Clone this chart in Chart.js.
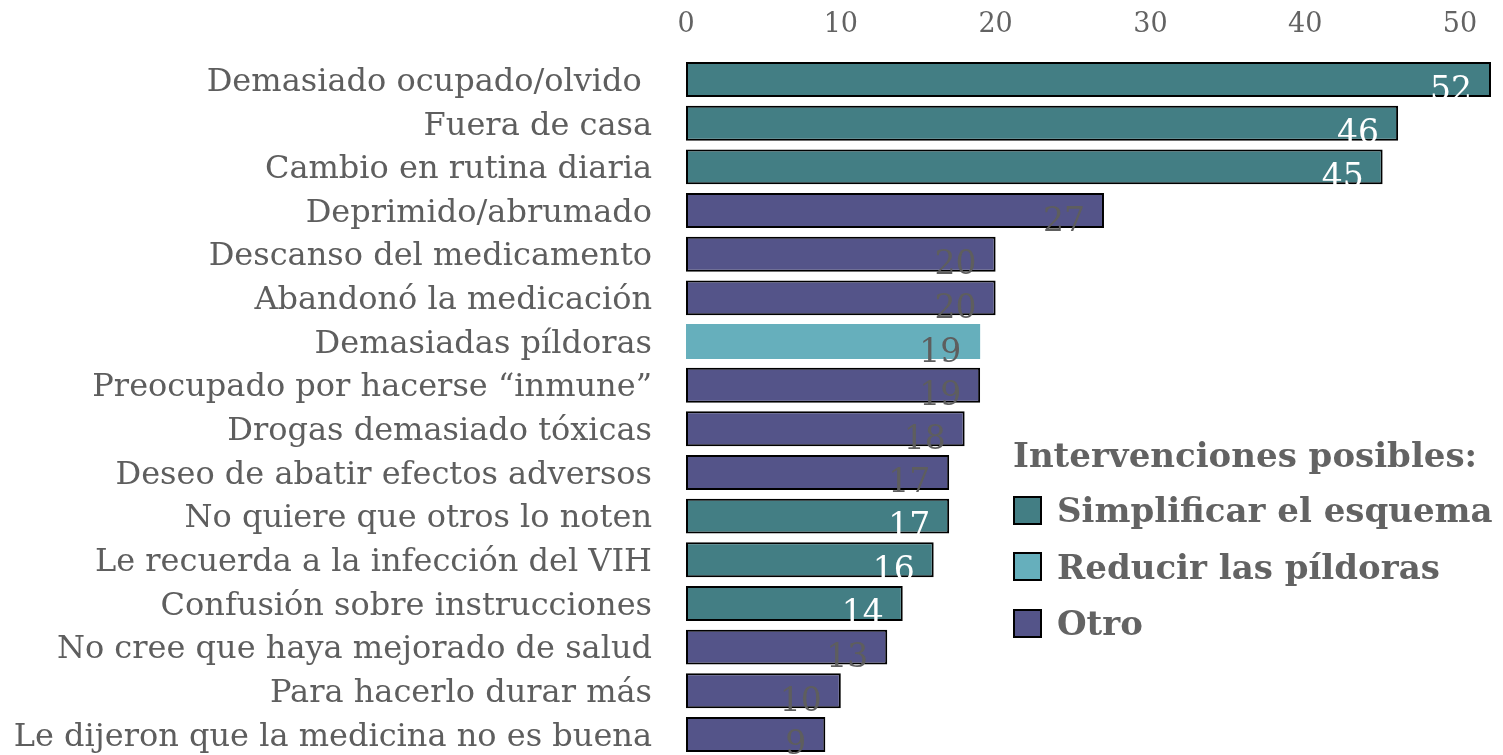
<!DOCTYPE html>
<html>
<head>
<meta charset="utf-8">
<script src="https://cdn.jsdelivr.net/npm/chart.js@4.4.0/dist/chart.umd.min.js"></script>
<style>
  html, body { margin: 0; padding: 0; background: #ffffff; overflow: hidden; }
  #wrap { position: relative; width: 1503px; height: 755px; overflow: hidden; }
  #box { position: absolute; left: 0; top: 0; width: 1503px; height: 760px; }
  #legend { position: absolute; left: 1013px; top: 428px; font-family: "DejaVu Serif", serif; font-weight: bold; color: #636363; }
  #legend .title { font-size: 34px; line-height: 54px; white-space: nowrap; }
  #legend .item { font-size: 34px; line-height: 56.5px; height: 56.5px; white-space: nowrap; display: flex; align-items: center; }
  #legend .box { width: 25px; height: 25px; border: 2px solid #000; margin-right: 15px; box-sizing: content-box; flex: none; }
</style>
</head>
<body>
<div id="wrap">
  <div id="box"><canvas id="chart"></canvas></div>
  <div id="legend"></div>
</div>
<script>
// Reasons for missing doses, with the intervention group each one belongs to
const categories = [
  "Demasiado ocupado/olvido ",
  "Fuera de casa",
  "Cambio en rutina diaria",
  "Deprimido/abrumado",
  "Descanso del medicamento",
  "Abandonó la medicación",
  "Demasiadas píldoras",
  "Preocupado por hacerse “inmune”",
  "Drogas demasiado tóxicas",
  "Deseo de abatir efectos adversos",
  "No quiere que otros lo noten",
  "Le recuerda a la infección del VIH",
  "Confusión sobre instrucciones",
  "No cree que haya mejorado de salud",
  "Para hacerlo durar más",
  "Le dijeron que la medicina no es buena"
];
const values = [52, 46, 45, 27, 20, 20, 19, 19, 18, 17, 17, 16, 14, 13, 10, 9];
// 0 = Simplificar el esquema, 1 = Reducir las píldoras, 2 = Otro
const groupOf = [0, 0, 0, 2, 2, 2, 1, 2, 2, 2, 0, 0, 0, 2, 2, 2];
const groupNames = ["Simplificar el esquema", "Reducir las píldoras", "Otro"];
const groupColors = ["#437e84", "#66afbc", "#545489"];
const groupBorders = [2, 0, 2];
const groupLabelColors = ["#ffffff", "#5e5e5e", "#5e5e5e"];
const xTicks = [0, 10, 20, 30, 40, 50];
const legendTitle = "Intervenciones posibles:";

const datasets = groupNames.map((name, g) => ({
  label: name,
  data: values.map((v, i) => (groupOf[i] === g ? v : null)),
  backgroundColor: groupColors[g],
  borderColor: "#000000",
  borderWidth: groupBorders[g],
  borderSkipped: false,
  barPercentage: 0.8,
  categoryPercentage: 1.0,
  labelColor: groupLabelColors[g]
}));

// Value labels tucked inside the end of each bar
const valueLabels = {
  id: "valueLabels",
  afterDatasetsDraw(chart) {
    const ctx = chart.ctx;
    ctx.save();
    ctx.font = "33px 'DejaVu Serif', serif";
    ctx.textAlign = "right";
    ctx.textBaseline = "alphabetic";
    chart.data.datasets.forEach((ds, di) => {
      const meta = chart.getDatasetMeta(di);
      meta.data.forEach((el, i) => {
        const v = ds.data[i];
        if (v === null || v === undefined) return;
        ctx.fillStyle = ds.labelColor;
        ctx.fillText(String(v), el.x - 19, el.y + 20);
      });
    });
    ctx.restore();
  }
};

new Chart(document.getElementById("chart"), {
  type: "bar",
  data: { labels: categories, datasets },
  plugins: [valueLabels],
  options: {
    indexAxis: "y",
    responsive: true,
    maintainAspectRatio: false,
    animation: false,
    layout: { padding: { left: 0, right: 12, top: 0, bottom: 3.7 } },
    plugins: { legend: { display: false }, tooltip: { enabled: false } },
    scales: {
      x: {
        position: "top",
        stacked: true,
        min: 0,
        max: 52,
        afterBuildTicks(scale) { scale.ticks = xTicks.map(v => ({ value: v })); },
        afterFit(scale) { scale.height = 57.7; },
        grid: { display: false, drawTicks: false },
        border: { display: false },
        ticks: {
          color: "#636363",
          padding: 17,
          font: { family: "'DejaVu Serif', serif", size: 27 }
        }
      },
      y: {
        stacked: true,
        afterFit(scale) {
          scale.width = 686;
          scale.paddingTop = 0;
          scale.paddingBottom = 0;
        },
        grid: { display: false, drawTicks: false },
        border: { display: false },
        ticks: {
          color: "#5e5e5e",
          padding: 34,
          labelOffset: 3,
          autoSkip: false,
          font: { family: "'DejaVu Serif', serif", size: 32 }
        }
      }
    }
  }
});

// Legend block for the intervention groups
const legend = document.getElementById("legend");
const t = document.createElement("div");
t.className = "title";
t.textContent = legendTitle;
legend.appendChild(t);
groupNames.forEach((name, g) => {
  const row = document.createElement("div");
  row.className = "item";
  const box = document.createElement("span");
  box.className = "box";
  box.style.background = groupColors[g];
  const txt = document.createElement("span");
  txt.textContent = name;
  row.appendChild(box);
  row.appendChild(txt);
  legend.appendChild(row);
});
</script>
</body>
</html>
